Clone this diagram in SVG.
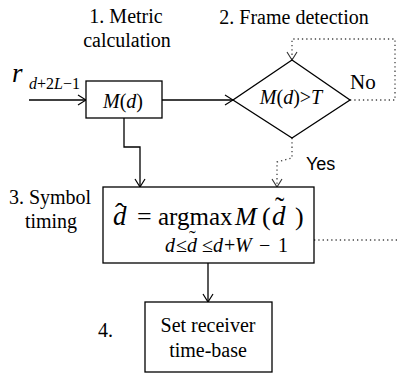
<svg xmlns="http://www.w3.org/2000/svg" width="398" height="374" viewBox="0 0 398 374">
<defs>
<marker id="arr" viewBox="-9 -6 10 12" refX="0" refY="0" markerWidth="10" markerHeight="12" markerUnits="userSpaceOnUse" orient="auto">
<path d="M-8,-5 L0,0 L-8,5" fill="none" stroke="#000" stroke-width="1.2"/>
</marker>
<marker id="arrd" viewBox="-9 -6 10 12" refX="0" refY="0" markerWidth="10" markerHeight="12" markerUnits="userSpaceOnUse" orient="auto">
<path d="M-8,-5 L0,0 L-8,5" fill="none" stroke="#333" stroke-width="1.1"/>
</marker>
</defs>
<style>
.lbl{font-size:20px;}
.it{font-style:italic;}
.box{fill:#fff;stroke:#000;stroke-width:1.3;}
.ln{fill:none;stroke:#000;stroke-width:1.3;}
.dot{fill:none;stroke:#444;stroke-width:1.3;stroke-dasharray:1.3 3;}
</style>
<rect width="398" height="374" fill="#fff"/>
<g id="connectors">
<line class="ln" x1="29" y1="100" x2="86" y2="100" marker-end="url(#arr)"/>
<line class="ln" x1="162" y1="100" x2="233" y2="100" marker-end="url(#arr)"/>
<polyline class="ln" points="124,118 124,147 140,147 140,187" marker-end="url(#arr)"/>
<polyline class="dot" points="350,100 395,100 395,39 292,39 292,60" marker-end="url(#arrd)"/>
<polyline class="dot" points="292,138 292,158 277,162 277,187" marker-end="url(#arrd)"/>
<line class="dot" x1="314" y1="240" x2="398" y2="240"/>
<line class="ln" x1="208" y1="263" x2="208" y2="302" marker-end="url(#arr)"/>
</g>
<g font-family="'Liberation Serif', 'DejaVu Serif', serif" fill="#000">
<g id="input">
<text x="12" y="82" class="it" font-size="27">r</text>
<text x="29" y="89" font-size="16"><tspan class="it">d</tspan>+2<tspan class="it">L</tspan>−1</text>
</g>
<g id="node1">
<text class="lbl" x="126" y="23" text-anchor="middle">1. Metric</text>
<text class="lbl" x="127" y="47" text-anchor="middle">calculation</text>
<rect class="box" x="86" y="81" width="76" height="37"/>
<text class="lbl" x="123" y="108" text-anchor="middle"><tspan class="it">M</tspan>(<tspan class="it">d</tspan>)</text>
</g>
<g id="node2">
<text class="lbl" x="294" y="24" text-anchor="middle">2. Frame detection</text>
<polygon class="box" points="292,60 350,100 292,138 233,100"/>
<text class="lbl" x="291" y="104" text-anchor="middle"><tspan class="it">M</tspan>(<tspan class="it">d</tspan>)&gt;<tspan class="it">T</tspan></text>
<text x="350" y="89" font-size="21">No</text>
<text x="306" y="170" font-size="18" font-family="'Liberation Sans', Arial, sans-serif">Yes</text>
</g>
<g id="node3">
<text class="lbl" x="50" y="204" text-anchor="middle">3. Symbol</text>
<text class="lbl" x="51" y="228" text-anchor="middle">timing</text>
<rect class="box" x="103" y="187" width="211" height="76"/>
<text x="113" y="225" font-size="26"><tspan class="it" font-size="27">d</tspan><tspan x="115" y="222" font-size="28">ˆ</tspan><tspan x="137" y="225">=</tspan><tspan x="158" font-size="25">argmax</tspan><tspan x="235" class="it">M</tspan><tspan x="262">(</tspan><tspan x="272" class="it" font-size="27">d</tspan><tspan x="275" y="216" font-size="28">˜</tspan><tspan x="295" y="225">)</tspan></text>
<text x="165" y="252" font-size="20"><tspan class="it">d</tspan><tspan x="176">≤</tspan><tspan x="187" class="it">d</tspan><tspan x="189" y="245">˜</tspan><tspan x="202" y="252">≤</tspan><tspan x="213" class="it">d</tspan><tspan x="224">+</tspan><tspan x="235" class="it">W</tspan><tspan x="259">−</tspan><tspan x="278">1</tspan></text>
</g>
<g id="node4">
<text class="lbl" x="98" y="337">4.</text>
<rect class="box" x="145" y="302" width="127" height="70"/>
<text class="lbl" x="208" y="332" text-anchor="middle">Set receiver</text>
<text class="lbl" x="208" y="357" text-anchor="middle">time-base</text>
</g>
</g>
</svg>
